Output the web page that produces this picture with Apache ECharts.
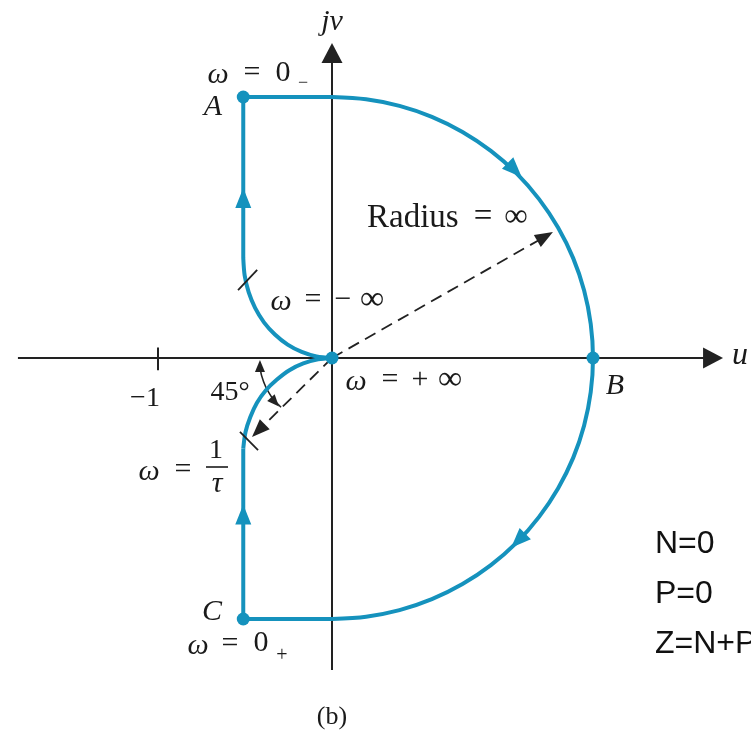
<!DOCTYPE html>
<html>
<head>
<meta charset="utf-8">
<script src="https://cdn.jsdelivr.net/npm/echarts@6/dist/echarts.min.js"></script>
<style>
  html, body { margin: 0; padding: 0; background: #fff; }
  #chart { width: 751px; height: 752px; }
</style>
</head>
<body>
<div id="chart"></div>
<script>
// Nyquist contour in the u + jv plane (data units: the -1 point is one unit left of the origin)
const PATH_TOP = [[-0.51, 1.5], [0, 1.5]];
const PATH_ARC = [
  [0, 1.5], [0.196, 1.487], [0.388, 1.449], [0.574, 1.386], [0.75, 1.299], [0.913, 1.19], [1.061, 1.061],
  [1.19, 0.913], [1.299, 0.75], [1.386, 0.574], [1.449, 0.388], [1.487, 0.196], [1.5, 0],
  [1.487, -0.196], [1.449, -0.388], [1.386, -0.574], [1.299, -0.75], [1.19, -0.913], [1.061, -1.061],
  [0.913, -1.19], [0.75, -1.299], [0.574, -1.386], [0.388, -1.449], [0.196, -1.487], [0, -1.5]
];
const PATH_BOTTOM = [[0, -1.5], [-0.51, -1.5]];
const PATH_LEFT_LOW = [[-0.51, -1.5], [-0.51, -0.52]];
const PATH_CURVE_LOW = [
  [-0.51, -0.52], [-0.497, -0.425], [-0.47, -0.34], [-0.432, -0.258], [-0.38, -0.185],
  [-0.318, -0.125], [-0.245, -0.07], [-0.165, -0.031], [-0.08, -0.008], [0, 0]
];
const PATH_CURVE_UP = [
  [0, 0], [-0.0885, 0.009], [-0.174, 0.035], [-0.255, 0.077], [-0.328, 0.135], [-0.391, 0.205],
  [-0.442, 0.288], [-0.479, 0.378], [-0.502, 0.475], [-0.51, 0.575]
];
const PATH_LEFT_UP = [[-0.51, 0.575], [-0.51, 1.5]];

const POINTS = [[-0.51, 1.5], [-0.51, -1.5], [0, 0], [1.5, 0]];   // A, C, origin, B

// arrowheads along the contour: [u, v, heading in degrees]
const CONTOUR_ARROWS = [[-0.51, 0.92, 90], [-0.51, -0.9, 90], [1.05, 1.08, -45], [1.07, -1.05, -135]];

// axes
const U_AXIS = [[-1.805, 0], [2.19, 0]];
const V_AXIS = [[0, -1.793], [0, 1.753]];
const AXIS_ARROWS = [[2.19, 0, 0], [0, 1.753, 90]];
const TICK_MINUS_ONE = [[-1, 0.06], [-1, -0.07]];

// dashed radius lines and the 45 degree angle marker
const RADIUS_INF = [[0, 0], [1.225, 0.698]];
const RADIUS_TAU = [[0, 0], [-0.423, -0.417]];
const DASH_ARROWS = [[1.225, 0.698, 29.7], [-0.423, -0.417, -135]];
const ANGLE_ARC = [[-0.414, -0.046], [-0.405, -0.1], [-0.38, -0.168], [-0.345, -0.228], [-0.328, -0.253]];
const ANGLE_ARROWS = [[-0.414, -0.046, 90], [-0.328, -0.253, -48]];

// small slash marks across the contour
const SLASH_UP = [[-0.54, 0.39], [-0.43, 0.506]];
const SLASH_TAU = [[-0.529, -0.425], [-0.425, -0.529]];
const SLASH_ANGLE = [[-0.334, -0.242], [-0.293, -0.283]];

const TEAL = '#1592bd';
const INK = '#222';
const PX = 174;               // pixels per unit
const ORIGIN = [332, 358];    // pixel position of u = 0, v = 0
const W = 751, H = 752;

const SERIF = '"Liberation Serif", "DejaVu Serif", serif';
const SANS = '"Liberation Sans", Arial, sans-serif';

function line(data, color, width, extra) {
  return Object.assign({
    type: 'line', data: data, showSymbol: false, symbol: 'none', silent: true,
    lineStyle: { color: color, width: width }, animation: false, z: 2
  }, extra || {});
}
function arrows(list, color, w, h, z) {
  return {
    type: 'scatter', silent: true, animation: false, z: z || 5,
    symbol: 'triangle', symbolSize: [w, h],
    itemStyle: { color: color, opacity: 1 },
    data: list.map(a => ({ value: [a[0], a[1]], symbolRotate: a[2] - 90 }))
  };
}
function txt(x, y, s, font, align) {
  return {
    type: 'text', x: x, y: y, silent: true, z: 10,
    style: { text: s, font: font, fill: '#1a1a1a', align: align || 'center', verticalAlign: 'middle',
             textAlign: align || 'center', textVerticalAlign: 'middle' }
  };
}
const it = sz => 'italic ' + sz + 'px ' + SERIF;
const rm = sz => sz + 'px ' + SERIF;

const chart = echarts.init(document.getElementById('chart'), null, { renderer: 'canvas' });
chart.setOption({
  animation: false,
  backgroundColor: '#fff',
  grid: { left: 0, top: 0, width: W, height: H },
  xAxis: { type: 'value', min: -ORIGIN[0] / PX, max: (W - ORIGIN[0]) / PX, show: false },
  yAxis: { type: 'value', min: -(H - ORIGIN[1]) / PX, max: ORIGIN[1] / PX, show: false },
  series: [
    line(U_AXIS, INK, 2),
    line(V_AXIS, INK, 2),
    line(TICK_MINUS_ONE, INK, 2),
    arrows(AXIS_ARROWS, INK, 21, 20),

    line(RADIUS_INF, INK, 1.8, { lineStyle: { color: INK, width: 1.8, type: [12, 7] } }),
    line(RADIUS_TAU, INK, 1.8, { lineStyle: { color: INK, width: 1.8, type: [12, 7] } }),
    arrows(DASH_ARROWS, INK, 14, 18),
    line(ANGLE_ARC, INK, 1.6, { smooth: 0.3 }),
    arrows(ANGLE_ARROWS, INK, 10, 12),

    line(PATH_TOP, TEAL, 4, { z: 3 }),
    line(PATH_ARC, TEAL, 4, { z: 3, smooth: 0.3 }),
    line(PATH_BOTTOM, TEAL, 4, { z: 3 }),
    line(PATH_LEFT_LOW, TEAL, 4, { z: 3 }),
    line(PATH_CURVE_LOW, TEAL, 4, { z: 3, smooth: 0.3 }),
    line(PATH_CURVE_UP, TEAL, 4, { z: 3, smooth: 0.3 }),
    line(PATH_LEFT_UP, TEAL, 4, { z: 3 }),
    arrows(CONTOUR_ARROWS, TEAL, 16, 20),
    {
      type: 'scatter', data: POINTS, symbol: 'circle', symbolSize: 13, silent: true,
      animation: false, z: 6, itemStyle: { color: TEAL, opacity: 1 }
    },

    line(SLASH_UP, INK, 1.8, { z: 7 }),
    line(SLASH_TAU, INK, 1.8, { z: 7 }),
    line(SLASH_ANGLE, INK, 1.6, { z: 7 })
  ],
  graphic: [
    txt(332, 22, 'jv', it(30)),
    txt(218, 75, 'ω', it(30)), txt(252, 73, '=', rm(30)), txt(283, 73, '0', rm(30)), txt(303, 83, '−', rm(18)),
    txt(213, 107, 'A', it(30)),
    txt(367, 218, 'Radius', rm(33), 'left'), txt(483, 217, '=', rm(33)), txt(516, 217, '∞', rm(33)),
    txt(281, 302, 'ω', it(30)), txt(313, 300, '=', rm(30)), txt(343, 300, '−', rm(30)), txt(372, 300, '∞', rm(34)),
    txt(356, 382, 'ω', it(30)), txt(390, 380, '=', rm(30)), txt(420, 380, '+', rm(30)), txt(450, 380, '∞', rm(34)),
    txt(615, 386, 'B', it(30)),
    txt(740, 356, 'u', it(32)),
    txt(145, 399, '−1', rm(28)),
    txt(230, 393, '45°', rm(28)),
    txt(149, 472, 'ω', it(30)), txt(183, 470, '=', rm(30)), txt(216, 451, '1', rm(28)), txt(217, 484, 'τ', it(30)),
    { type: 'line', silent: true, z: 10, shape: { x1: 206, y1: 467, x2: 228, y2: 467 }, style: { stroke: '#1a1a1a', lineWidth: 1.6 } },
    txt(212, 612, 'C', it(30)),
    txt(198, 646, 'ω', it(30)), txt(230, 644, '=', rm(30)), txt(261, 643, '0', rm(30)), txt(282, 656, '+', rm(20)),
    txt(332, 717, '(b)', rm(26)),
    { type: 'text', left: 655, top: 519, silent: true, z: 10,
      style: { text: 'N=0\nP=0\nZ=N+P', font: '32px ' + SANS, fill: '#111', lineHeight: 50 } }
  ]
});
</script>
</body>
</html>
